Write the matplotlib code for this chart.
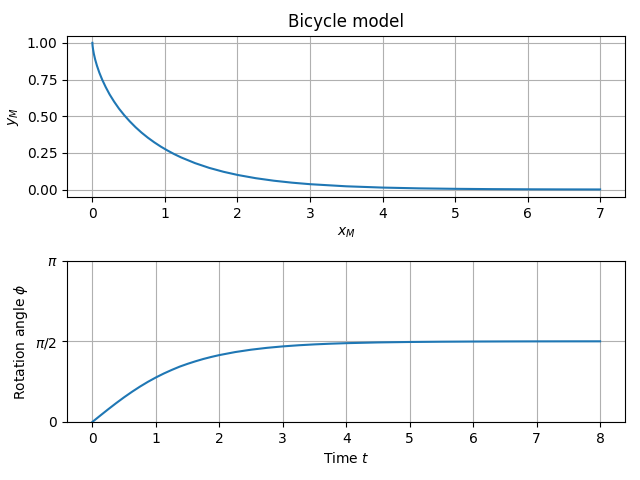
import numpy as np
import matplotlib
matplotlib.use("Agg")
import matplotlib.pyplot as plt

# Rear-wheel trajectory (x_M, y_M)
x_M = [0.0, 0.0003, 0.0026, 0.0087, 0.0201, 0.0379, 0.063, 0.0956, 0.136, 0.184,
       0.238, 0.2995, 0.366, 0.4383, 0.515, 0.5949, 0.678, 0.7646, 0.853, 0.9438,
       1.036, 1.1295, 1.2243, 1.4163, 1.611, 1.8074, 2.0049, 2.253, 2.5018,
       2.7511, 3.0007, 3.5002, 4.0001, 4.5, 5.0, 5.5, 6.0, 6.5, 7.0]
y_M = [1.0, 0.995, 0.980, 0.957, 0.925, 0.887, 0.844, 0.797, 0.748, 0.698,
       0.648, 0.5993, 0.552, 0.5074, 0.465, 0.4251, 0.388, 0.3536, 0.322, 0.2926,
       0.266, 0.2413, 0.2189, 0.1800, 0.1477, 0.1212, 0.0993, 0.0774, 0.0603,
       0.0470, 0.0366, 0.0222, 0.0135, 0.0082, 0.0050, 0.0030, 0.0018, 0.0011, 0.0007]

# Rotation angle over time
t = [0.0, 0.125, 0.25, 0.375, 0.5, 0.625, 0.75, 0.875, 1.0, 1.125, 1.25, 1.375,
     1.5, 1.625, 1.75, 1.875, 2.0, 2.25, 2.5, 2.75, 3.0, 3.25, 3.5, 3.75, 4.0,
     4.5, 5.0, 5.5, 6.0, 6.5, 7.0, 7.5, 8.0]
phi = [0.0, 0.1247, 0.2474, 0.3665, 0.4804, 0.5877, 0.6882, 0.7811, 0.8658,
       0.9429, 1.0126, 1.0770, 1.1317, 1.1814, 1.2268, 1.2663, 1.3018, 1.3608,
       1.4070, 1.4431, 1.4713, 1.4933, 1.5104, 1.5238, 1.5342, 1.5486, 1.5573,
       1.5626, 1.5658, 1.5678, 1.5690, 1.5697, 1.5701]

phi_ticks = [0, np.pi / 2, np.pi]
phi_labels = ["0", r"$\pi/2$", r"$\pi$"]

fig, (ax1, ax2) = plt.subplots(2, 1, figsize=(6.4, 4.8), dpi=100)

ax1.plot(x_M, y_M)
ax1.set_title("Bicycle model")
ax1.set_xlabel(r"$x_M$")
ax1.set_ylabel(r"$y_M$")
ax1.grid(True)

ax2.plot(t, phi)
ax2.set_xlabel(r"Time $t$")
ax2.set_ylabel(r"Rotation angle $\phi$")
ax2.set_yticks(phi_ticks)
ax2.set_yticklabels(phi_labels)
ax2.set_ylim(0, np.pi)
ax2.grid(True)

fig.subplots_adjust(left=0.1047, right=0.9773, top=0.926, bottom=0.121, hspace=0.396)
fig.savefig("out.png", dpi=100)
